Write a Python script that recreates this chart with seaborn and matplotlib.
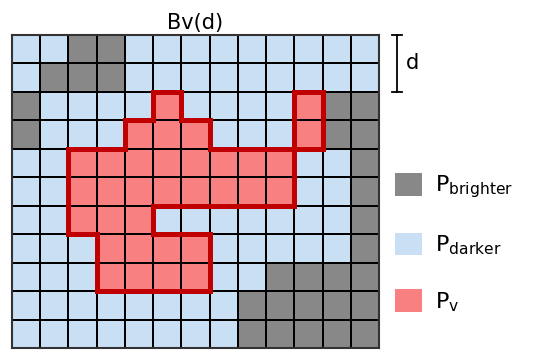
import numpy as np
import matplotlib
matplotlib.use('Agg')
import matplotlib.pyplot as plt
from matplotlib.colors import ListedColormap
from matplotlib.collections import LineCollection
from matplotlib.patches import Patch
import seaborn as sns

# pixel classes, one string per row:  . = darker, # = brighter, R = v
grid_rows = [
    "..##.........",
    ".###.........",
    "#....R....R##",
    "#...RRR...R##",
    "..RRRRRRRR..#",
    "..RRRRRRRR..#",
    "..RRR.......#",
    "...RRRR.....#",
    "...RRRR..####",
    "........#####",
    "........#####",
]
class_codes = {'.': 0, '#': 1, 'R': 2}
class_colors = ['#c9dff3', '#888888', '#f88080']
legend_labels = [r'$\mathrm{P}_{\mathrm{brighter}}$',
                 r'$\mathrm{P}_{\mathrm{darker}}$',
                 r'$\mathrm{P}_{\mathrm{v}}$']
legend_order = [1, 0, 2]
scale_cells = 2  # length of d in cells

grid = np.array([[class_codes[c] for c in row] for row in grid_rows])
n_rows, n_cols = grid.shape

plt.rcParams['font.family'] = ['DejaVu Sans']
plt.rcParams['mathtext.fontset'] = 'dejavusans'

fig = plt.figure(figsize=(5.34, 3.51), dpi=100)
ax = fig.add_axes([12 / 534, 3 / 351, 367 / 534, 313 / 351])
sns.heatmap(grid, cmap=ListedColormap(class_colors), vmin=-0.5, vmax=2.5,
            cbar=False, linewidths=1.2, linecolor='black',
            xticklabels=False, yticklabels=False, ax=ax)
for s in ax.spines.values():
    s.set_visible(True)
    s.set_color('#333333')
    s.set_linewidth(1.5)

# outline of the P_v region
segs = []
isv = grid == 2
for i in range(n_rows):
    for j in range(n_cols):
        if not isv[i, j]:
            continue
        if i == 0 or not isv[i - 1, j]:
            segs.append([(j, i), (j + 1, i)])
        if i == n_rows - 1 or not isv[i + 1, j]:
            segs.append([(j, i + 1), (j + 1, i + 1)])
        if j == 0 or not isv[i, j - 1]:
            segs.append([(j, i), (j, i + 1)])
        if j == n_cols - 1 or not isv[i, j + 1]:
            segs.append([(j + 1, i), (j + 1, i + 1)])
ax.add_collection(LineCollection(segs, colors='#c00000', linewidths=3.6,
                                 capstyle='projecting', zorder=5))

ax.set_title('Bv(d)', fontsize=15, pad=4)

# scale bar for d
xb = n_cols + 0.64
ax.plot([xb, xb], [0, scale_cells], color='black', lw=1.3, clip_on=False)
for yy in [0, scale_cells]:
    ax.plot([xb - 0.17, xb + 0.17], [yy, yy], color='black', lw=1.3, clip_on=False)
ax.text(xb + 0.3, scale_cells / 2, 'd', fontsize=15, va='center', ha='left')

handles = [Patch(facecolor=class_colors[k], edgecolor='none') for k in legend_order]
fig.legend(handles, legend_labels, loc='upper left', bbox_to_anchor=(375 / 534, 1 - 153 / 351),
           frameon=False, fontsize=16, handlelength=1.2, handleheight=1.2,
           handletextpad=0.6, labelspacing=1.45)

fig.savefig('out.png', dpi=100)
